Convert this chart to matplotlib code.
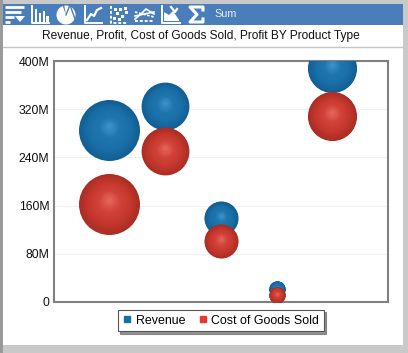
"""
Bubble chart: Revenue and Cost of Goods Sold by product type, bubble area is Profit.
"""

import matplotlib
matplotlib.use('Agg')
import matplotlib.pyplot as plt
from matplotlib.colors import LinearSegmentedColormap
from matplotlib.lines import Line2D
from matplotlib.patches import Rectangle, Polygon, Wedge

plt.rcParams['font.family'] = ['Liberation Sans', 'DejaVu Sans']

# Data (millions)
positions = [1, 2, 3, 4, 5]
revenue = [285, 325, 139, 22, 388]
cost = [163, 250, 101, 12, 309]
profit = [122, 75, 38, 9, 79]

y_ticks = [0, 80, 160, 240, 320, 400]
y_labels = ['0', '80M', '160M', '240M', '320M', '400M']
title = 'Revenue, Profit, Cost of Goods Sold, Profit BY Product Type'
series_names = ['Revenue', 'Cost of Goods Sold']

W, H = 408, 353
fig = plt.figure(figsize=(W / 100, H / 100), dpi=100, facecolor='#c9c9c9')

# Window chrome, drawn in pixel coordinates
bg = fig.add_axes([0, 0, 1, 1])
bg.set_xlim(0, W)
bg.set_ylim(H, 0)
bg.axis('off')
bg.add_patch(Rectangle((0, 0), 3, H, color='#9a9a9a', lw=0))
bg.add_patch(Rectangle((3, 4), 400, 341, color='white', lw=0))
bg.add_patch(Rectangle((3, 4), 400, 21, color='#4a7ebb', lw=0))
bg.plot([3, 403], [46.5, 46.5], color='#c4c4c4', lw=1)
bg.text(200.5, 35.5, title, ha='center', va='center', fontsize=8.6, color='#111111')
bg.text(214, 14, 'Sum', ha='left', va='center', fontsize=7.8, color='#e8eef8')

# Toolbar icons
WHITE = 'white'
for y0, x1 in [(7, 24), (12, 21), (17, 14), (22, 10)]:
    bg.plot([5, x1], [y0, y0], color=WHITE, lw=2, solid_capstyle='butt')
bg.add_patch(Polygon([[15, 16], [25, 16], [20, 22]], color=WHITE, lw=0))
# bars
bg.plot([32, 32, 49], [6, 22.5, 22.5], color=WHITE, lw=1.4)
for bx, top in [(36, 9), (40, 13), (44, 11), (47.5, 16)]:
    bg.add_patch(Rectangle((bx - 1.2, top), 2.4, 22 - top, color=WHITE, lw=0))
# pie
bg.add_patch(Wedge((66, 15), 9.5, -100, 250, color=WHITE, lw=0))
bg.plot([66, 70, 75], [15, 5, 19], color='#4a7ebb', lw=1)
# line
bg.plot([85, 85, 102], [6, 22.5, 22.5], color=WHITE, lw=1.4)
bg.plot([87, 91, 94, 97, 101], [20, 14, 16, 10, 8], color=WHITE, lw=1.6)
# scatter
bg.plot([111, 111, 128], [6, 22.5, 22.5], color=WHITE, lw=1.4, ls=(0, (1.5, 1)))
for sx, sy in [(114, 18), (117, 13), (120, 9), (122, 16), (126, 12), (115, 9), (125, 8), (119, 19)]:
    bg.add_patch(Rectangle((sx - 1.5, sy - 1.5), 3, 3, color=WHITE, lw=0))
# multi line
bg.plot([135, 154], [21, 21], color=WHITE, lw=1.4, ls=(0, (1.5, 1)))
bg.plot([135, 154], [16, 12], color=WHITE, lw=1.2)
bg.plot([135, 141, 146, 154], [19, 14, 9, 14], color=WHITE, lw=1.2)
bg.plot([135, 154], [12, 17], color=WHITE, lw=1.2, ls=(0, (1.5, 1)))
# area
bg.plot([162, 162, 180], [6, 22.5, 22.5], color=WHITE, lw=1.4)
bg.add_patch(Polygon([[164, 21], [164, 12], [169, 15], [173, 11], [179, 20], [179, 21]], color=WHITE, lw=0))
bg.plot([171, 175, 177], [7, 12, 9], color=WHITE, lw=1.6)
# sigma
bg.plot([203, 203, 190, 197, 190, 203, 203], [10, 7, 7, 14.5, 22, 22, 19], color=WHITE, lw=2.2)

# Plot area
ax = fig.add_axes([53.5 / W, 1 - 302 / H, (388 - 53.5) / W, (302 - 61) / H])
ax.set_xlim(0, 6)
ax.set_ylim(0, 400)
ax.set_facecolor('white')
ax.set_yticks(y_ticks)
ax.set_yticklabels(y_labels, fontsize=8.8, color='#111111')
ax.set_xticks([])
ax.tick_params(axis='y', length=0, pad=3)
ax.grid(True, axis='y', color='#f0f0f0', lw=0.8)
ax.set_axisbelow(True)
for sp in ax.spines.values():
    sp.set_color('#808080')
    sp.set_linewidth(1.5)

blue_map = LinearSegmentedColormap.from_list('b', ['#125f93', '#1a6fa8', '#1f76ae', '#3f93c9'])
red_map = LinearSegmentedColormap.from_list('r', ['#a92e24', '#c6372e', '#d2443b', '#e8655d'])


def bubbles(xs, ys, sizes, cmap, z):
    # concentric rings fake the sphere shading, highlight sits a little above centre
    steps = 40
    for x, y, size in zip(xs, ys, sizes):
        base = size * 15.8
        rad_px = (size * 7.6) ** 0.5
        for i in range(steps):
            frac = 1 - i / steps
            z += 0.01
            shift = (1 - frac) * rad_px * 0.15 * 400 / 241
            ax.scatter([x], [y + shift], s=base * frac ** 2, color=cmap(i / (steps - 1)),
                       linewidths=0, zorder=z)
    return z


z = bubbles(positions, revenue, profit, blue_map, 3)
bubbles(positions, cost, profit, red_map, z)

# Legend
handles = [Line2D([], [], ls='', marker='s', ms=4.2, color='#1a6ea6'),
           Line2D([], [], ls='', marker='s', ms=4.2, color='#e23a32')]
leg = fig.legend(handles, series_names, loc='center', bbox_to_anchor=(221 / W, 1 - 320.5 / H),
                 ncol=2, fontsize=8.9, frameon=True, fancybox=False,
                 shadow={'ox': 1.5, 'oy': -1.5, 'color': '#666666', 'alpha': 0.7},
                 edgecolor='#555555', framealpha=1, handlelength=0.7, handletextpad=0.35,
                 columnspacing=1.05, borderpad=0.4, borderaxespad=0)
leg.get_frame().set_linewidth(0.8)

fig.savefig('out.png', dpi=100, facecolor=fig.get_facecolor())
